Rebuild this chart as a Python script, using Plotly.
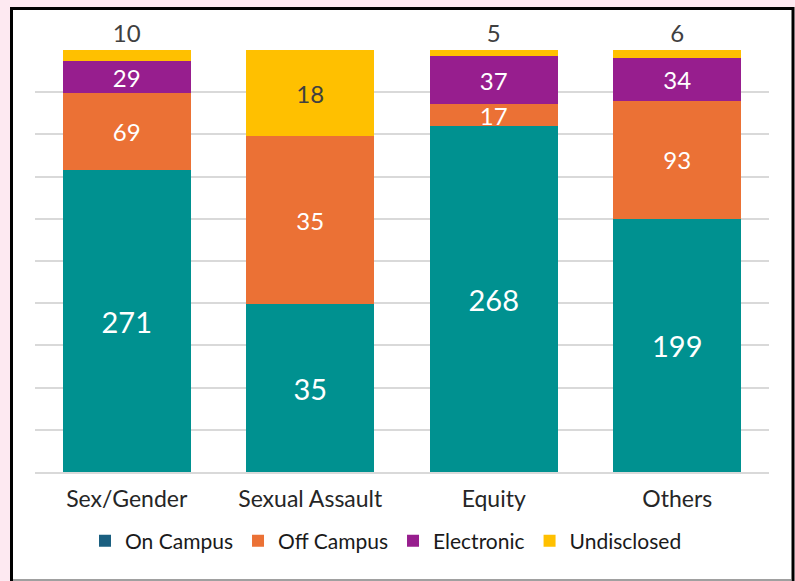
import plotly.graph_objects as go

categories = ["Sex/Gender", "Sexual Assault", "Equity", "Others"]
on_campus = [271, 35, 268, 199]
off_campus = [69, 35, 17, 93]
electronic = [29, 0, 37, 34]
undisclosed = [10, 18, 5, 6]
undisclosed_pos = ["outside", "inside", "outside", "outside"]

C_ON = "#009190"
C_ON_LEGEND = "#1a5f80"
C_OFF = "#EB7135"
C_EL = "#971E8E"
C_UN = "#FFC000"
FONT = "Lato"

W, H = 795, 581
L, R, T, B = 35, W - 769, 50, H - 472
pw, ph = W - L - R, H - T - B

def lab(vals):
    return [str(v) if v else "" for v in vals]

fig = go.Figure()
fig.add_trace(go.Bar(x=categories, y=on_campus, name="On Campus", marker_color=C_ON,
                     showlegend=False, text=lab(on_campus), textposition="inside",
                     textfont=dict(color="white", size=29, family=FONT)))
fig.add_trace(go.Bar(x=categories, y=[None] * 4, name="On Campus", marker_color=C_ON_LEGEND,
                     showlegend=True))
fig.add_trace(go.Bar(x=categories, y=off_campus, name="Off Campus", marker_color=C_OFF,
                     text=lab(off_campus), textposition="inside",
                     textfont=dict(color="white", size=24, family=FONT)))
fig.add_trace(go.Bar(x=categories, y=electronic, name="Electronic", marker_color=C_EL,
                     text=lab(electronic), textposition="inside",
                     textfont=dict(color="white", size=24, family=FONT)))
fig.add_trace(go.Bar(x=categories, y=undisclosed, name="Undisclosed", marker_color=C_UN,
                     text=lab(undisclosed), textposition=undisclosed_pos, cliponaxis=False,
                     textfont=dict(color="#404040", size=24, family=FONT)))

fig.update_traces(marker_line_width=0, hoverinfo="skip", textangle=0,
                  insidetextanchor="middle", constraintext="none")

fig.update_layout(
    width=W, height=H,
    margin=dict(l=L, r=R, t=T, b=B, pad=0),
    barmode="stack", barnorm="percent", bargap=0.30,
    paper_bgcolor="#fde9f1", plot_bgcolor="rgba(0,0,0,0)",
    font=dict(family=FONT, color="#262626"),
    xaxis=dict(showgrid=False, tickfont=dict(size=23, color="#262626"),
               showline=True, linecolor="#d9d9d9", linewidth=1.5, ticks="",
               ticklabelstandoff=6),
    yaxis=dict(range=[0, 100], dtick=10, showticklabels=False, showgrid=True,
               gridcolor="#d9d9d9", gridwidth=1.5, zeroline=False),
    legend=dict(orientation="h", x=(386 - L) / pw, xanchor="center",
                y=(472 - 541) / ph, yanchor="middle", traceorder="normal",
                font=dict(size=21, color="#1a1a1a", family=FONT),
                itemwidth=30, bgcolor="rgba(0,0,0,0)"),
    shapes=[
        dict(type="rect", xref="paper", yref="paper", layer="below",
             x0=(11.5 - L) / pw, x1=(793 - L) / pw,
             y0=(472 - 584) / ph, y1=(472 - 8.5) / ph,
             fillcolor="white", line=dict(color="black", width=3)),
        dict(type="line", xref="paper", yref="paper", layer="below",
             x0=(13 - L) / pw, x1=(791 - L) / pw,
             y0=(472 - 580) / ph, y1=(472 - 580) / ph,
             line=dict(color="#a0a0a0", width=2)),
    ],
)

fig.write_html("out.html", config={"displayModeBar": False},
               post_script="document.body.style.margin='0';document.body.style.padding='0';")
